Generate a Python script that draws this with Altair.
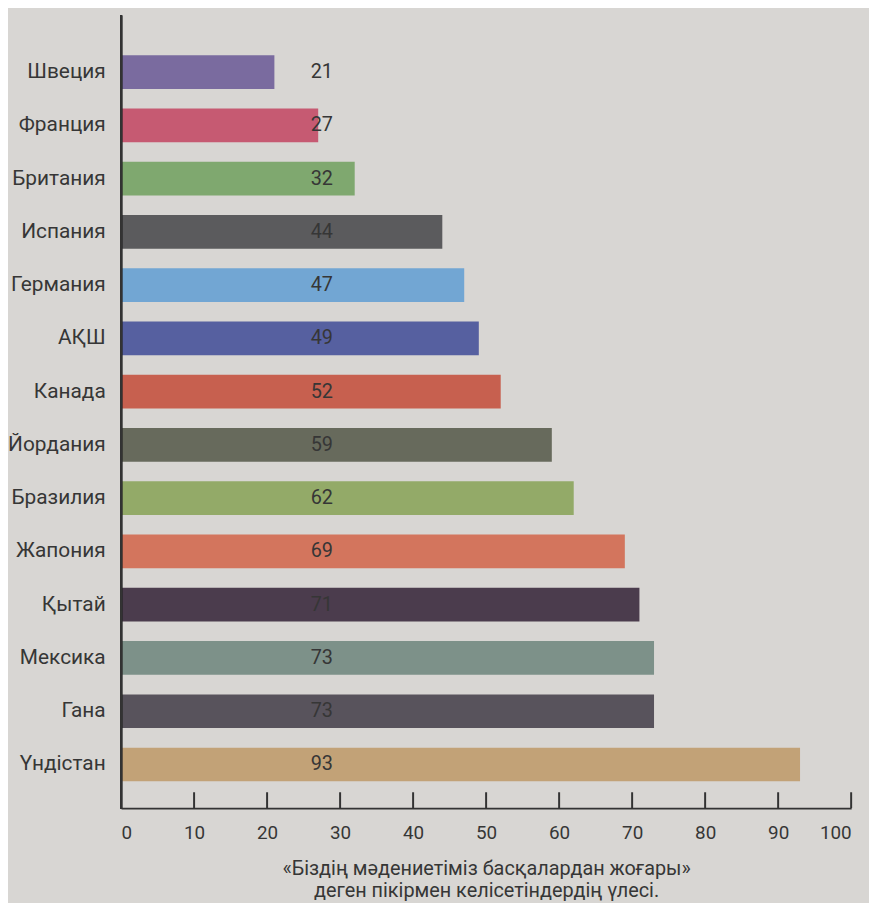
import altair as alt
import pandas as pd

countries = ["Швеция", "Франция", "Британия", "Испания", "Германия", "АҚШ", "Канада",
             "Йордания", "Бразилия", "Жапония", "Қытай", "Мексика", "Гана", "Үндістан"]
values = [21, 27, 32, 44, 47, 49, 52, 59, 62, 69, 71, 73, 73, 93]
bar_colors = ["#7a6b9f", "#c65a72", "#7fa86f", "#5b5b5d", "#72a6d3", "#5660a0", "#c7604f",
              "#676a5c", "#93aa68", "#d3755d", "#4b3c4d", "#7d9189", "#58535c", "#c2a277"]
tick_values = [10, 20, 30, 40, 50, 60, 70, 80, 90, 100]
axis_labels = list(range(0, 101, 10))
x_title = ["«Біздің мәдениетіміз басқалардан жоғары»", "деген пікірмен келісетіндердің үлесі."]

df = pd.DataFrame({"country": countries, "value": values})
ticks_df = pd.DataFrame({"t": tick_values})

W, H = 736, 799
FONT = "Roboto"
TXT = "#363636"
LINE = "#333333"

xscale = alt.Scale(domain=[0, 100], nice=False)
yscale = alt.Scale(domain=countries, range=[40, 772], paddingInner=0.367, paddingOuter=0)

x_enc = alt.X("value:Q", scale=xscale, axis=alt.Axis(
    values=axis_labels, grid=False, ticks=False, domain=True, domainColor=LINE,
    domainWidth=2, labelFontSize=19, labelColor=TXT, labelFont=FONT, labelPadding=16,
    title=x_title, titleFont=FONT, titleFontSize=20, titleFontWeight="normal",
    titleColor=TXT, titleY=51, titleBaseline="top", titleLineHeight=22))
y_enc = alt.Y("country:N", scale=yscale, sort=countries, axis=alt.Axis(
    domain=False, ticks=False, grid=False, labelFontSize=21, labelColor=TXT,
    labelFont=FONT, labelPadding=16, title=None))

bars = alt.Chart(df).mark_bar().encode(
    x=x_enc, y=y_enc,
    color=alt.Color("country:N", scale=alt.Scale(domain=countries, range=bar_colors), legend=None),
)

labels = alt.Chart(df).mark_text(font=FONT, fontSize=20, color=TXT, align="center",
                                 baseline="middle").encode(
    x=alt.datum(27.5), y=alt.Y("country:N", scale=yscale, sort=countries), text="value:Q")

yaxis_line = alt.Chart(df).mark_rule(color=LINE, strokeWidth=2).encode(
    x=alt.value(0), y=alt.value(0), y2=alt.value(H))

tick_marks = alt.Chart(ticks_df).mark_rule(color=LINE, strokeWidth=2).encode(
    x=alt.X("t:Q", scale=xscale), y=alt.value(H - 16), y2=alt.value(H))

chart = alt.layer(bars, labels, yaxis_line, tick_marks).properties(
    width=W, height=H,
    autosize=alt.AutoSizeParams(type="none"),
    padding={"left": 114, "top": 4, "right": 18, "bottom": 92},
    background="#d8d6d3",
).configure_view(stroke=None)

chart.save("out.html", embed_options={"renderer": "svg", "actions": False})
